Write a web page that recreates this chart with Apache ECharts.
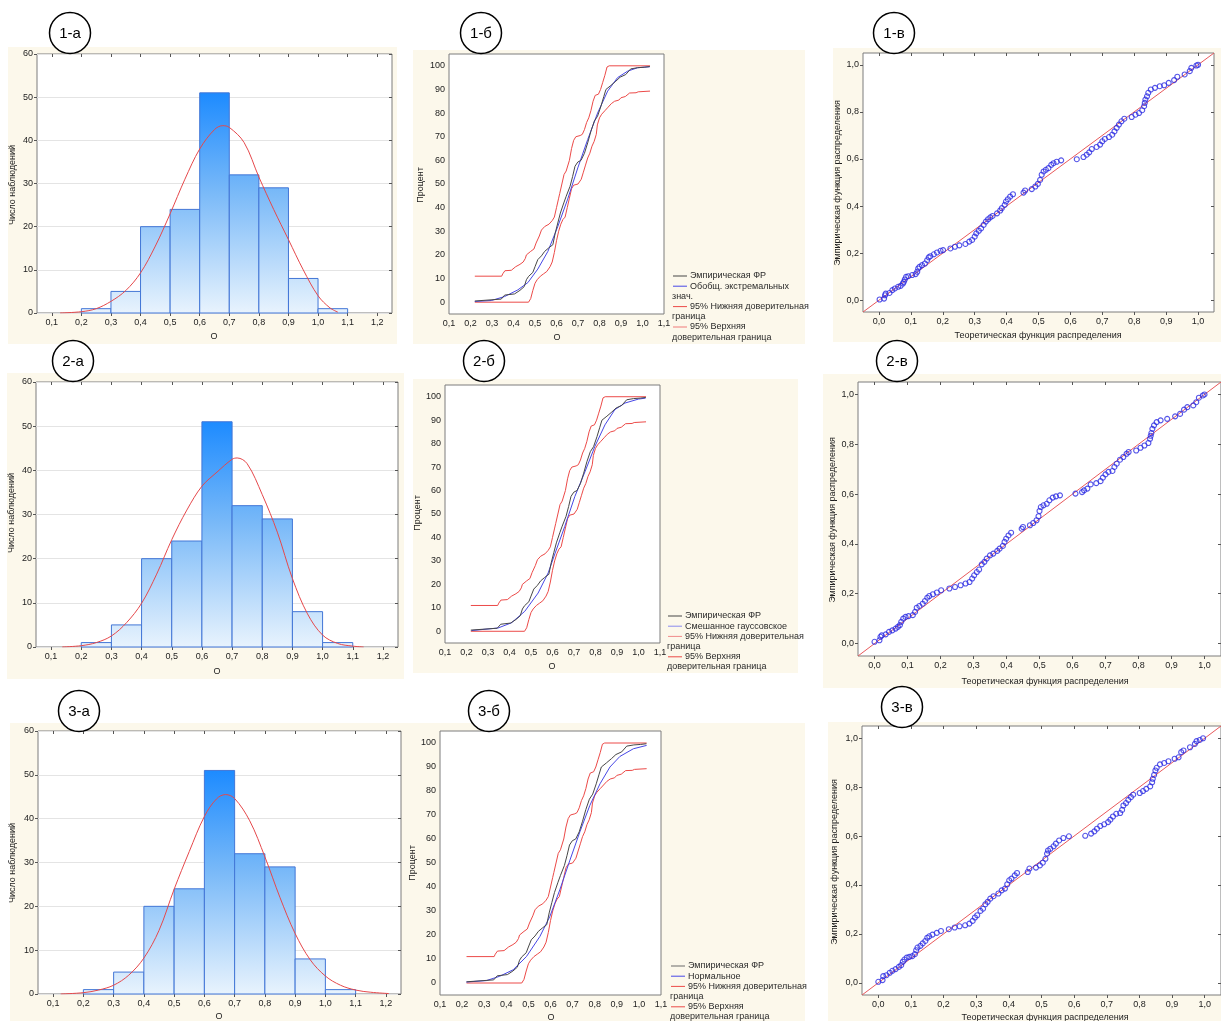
<!DOCTYPE html>
<html>
<head>
<meta charset="utf-8">
<title>Распределение О</title>
<script src="https://cdn.jsdelivr.net/npm/echarts@6/dist/echarts.min.js"></script>
<style>
  html, body { margin: 0; padding: 0; background: #ffffff; }
  #chart { width: 1221px; height: 1021px; }
</style>
</head>
<body>
<div id="chart"></div>
<script>
// ---------- data ----------
// histogram bins (edges) and counts of observations
const binEdges  = [0.2, 0.3, 0.4, 0.5, 0.6, 0.7, 0.8, 0.9, 1.0, 1.1];
const binCounts = [1, 5, 20, 24, 51, 32, 29, 8, 1];

// fitted densities over the histograms, in expected counts per bin
const densityGEV = [[0.128,0],[0.2,0.3],[0.25,1],[0.3,2.7],[0.35,5.2],[0.4,9.3],[0.45,15.5],[0.5,23],[0.55,31],[0.6,38],[0.65,42.5],[0.678,43.4],[0.7,43],[0.75,39.5],[0.8,31.5],[0.85,24],[0.9,17],[0.95,10],[1.0,4],[1.04,1.2],[1.067,0.2]];
const densityMix = [[0.137,0],[0.2,0.3],[0.25,1],[0.3,2.5],[0.35,5.5],[0.4,9.9],[0.45,16.5],[0.5,24.3],[0.55,31],[0.6,36.4],[0.65,39.6],[0.7,42.5],[0.717,42.8],[0.75,41.5],[0.8,34.5],[0.85,26],[0.9,15.5],[0.95,7.5],[1.0,2.7],[1.05,0.8],[1.1,0.2],[1.136,0]];
const densityNormal = [[0.125,0],[0.2,0.3],[0.25,0.9],[0.3,2.0],[0.35,4.3],[0.4,8.2],[0.45,14.5],[0.5,23.9],[0.55,32.5],[0.6,40.5],[0.64,44.5],[0.67,45.5],[0.7,44.6],[0.75,39.5],[0.8,31.3],[0.85,22],[0.9,13.8],[0.95,7.8],[1.0,4.1],[1.05,2],[1.1,0.9],[1.15,0.4],[1.21,0.1]];

// empirical distribution function and its 95% band, percent
const ecdfPoints = [[0.22,0.5],[0.343,1.3],[0.359,3],[0.405,3.5],[0.43,5],[0.45,6.6],[0.46,9.5],[0.47,10.9],[0.49,12.6],[0.5,15],[0.513,18],[0.53,19.6],[0.545,21.5],[0.563,22.9],[0.583,24.3],[0.594,29.2],[0.606,33.5],[0.618,37.7],[0.634,42],[0.645,44.8],[0.652,45.5],[0.663,49],[0.675,53.2],[0.686,57.5],[0.699,59.3],[0.714,60],[0.73,63],[0.745,67.4],[0.76,72.3],[0.776,76.6],[0.791,78.7],[0.807,83],[0.82,87],[0.83,90],[0.853,91.7],[0.876,93.5],[0.896,95.2],[0.922,96.3],[0.945,98.7],[0.977,99.2],[1.008,99.4],[1.034,99.7]];
const lowerBand95 = [[0.22,0],[0.47,0],[0.48,1.5],[0.49,5],[0.5,8],[0.51,9.5],[0.525,11],[0.54,12],[0.555,13],[0.57,15],[0.58,17],[0.59,21],[0.6,26],[0.61,30],[0.62,33],[0.63,35],[0.64,36],[0.65,40],[0.66,44],[0.67,48],[0.68,49.5],[0.7,50],[0.715,52],[0.725,55],[0.735,58],[0.745,61],[0.755,63],[0.765,66],[0.775,68],[0.785,71],[0.79,75],[0.8,78],[0.81,79.5],[0.825,81],[0.84,82.5],[0.855,84],[0.87,85],[0.89,85.5],[0.9,86.5],[0.92,87],[0.94,88.5],[0.97,88.6],[0.98,89],[1.035,89.3]];
const upperBand95 = [[0.22,11],[0.345,11],[0.35,12],[0.36,13.3],[0.39,13.5],[0.41,15],[0.43,16],[0.445,17],[0.455,18.5],[0.46,20],[0.48,21.5],[0.495,22.5],[0.505,25],[0.52,28],[0.53,30.5],[0.545,32],[0.565,33],[0.58,34.5],[0.59,36],[0.6,40],[0.61,44],[0.615,46],[0.625,50],[0.635,54],[0.645,55.5],[0.65,56],[0.66,60],[0.67,65],[0.68,68.5],[0.69,70],[0.71,70.5],[0.72,71],[0.73,73],[0.74,76],[0.75,78],[0.76,81],[0.77,85],[0.78,87.5],[0.795,88],[0.805,90],[0.815,93],[0.825,96],[0.835,99.5],[0.845,100],[1.035,100]];

// fitted distribution functions, percent
const cdfGEV = [[0.22,0.3],[0.297,0.7],[0.359,2.4],[0.42,5.2],[0.467,8.3],[0.513,14],[0.56,21.5],[0.606,32],[0.652,43.6],[0.699,56.8],[0.745,68.8],[0.791,80],[0.838,89.3],[0.884,95],[0.93,97.7],[0.977,99.2],[1.034,99.6]];
const cdfMixture = [[0.223,0.3],[0.347,1.4],[0.409,3.6],[0.471,8.5],[0.533,16.3],[0.58,24.9],[0.611,33],[0.657,44.7],[0.704,57.5],[0.751,68],[0.797,78.8],[0.844,88],[0.89,94.5],[0.937,97.3],[1.0,99],[1.033,99.4]];
const cdfNormal = [[0.219,0.4],[0.31,1],[0.37,2.8],[0.431,5.5],[0.491,11],[0.552,19.4],[0.597,27.7],[0.642,38.8],[0.688,51.2],[0.733,63],[0.778,74],[0.824,83],[0.869,90],[0.914,94.4],[0.975,97.6],[1.035,99]];

// probability-probability points: (theoretical, empirical)
const ppGEV = [[0.002,0.003],[0.016,0.007],[0.019,0.021],[0.021,0.028],[0.033,0.031],[0.042,0.043],[0.05,0.05],[0.06,0.057],[0.068,0.061],[0.075,0.071],[0.078,0.078],[0.081,0.088],[0.085,0.099],[0.092,0.102],[0.104,0.107],[0.115,0.111],[0.12,0.121],[0.123,0.135],[0.127,0.142],[0.135,0.149],[0.144,0.156],[0.151,0.17],[0.156,0.182],[0.161,0.187],[0.172,0.195],[0.182,0.203],[0.193,0.21],[0.201,0.213],[0.224,0.22],[0.238,0.227],[0.252,0.233],[0.271,0.239],[0.283,0.249],[0.292,0.256],[0.3,0.27],[0.305,0.284],[0.313,0.295],[0.32,0.305],[0.328,0.32],[0.335,0.334],[0.342,0.344],[0.349,0.352],[0.356,0.358],[0.37,0.369],[0.38,0.381],[0.385,0.391],[0.394,0.405],[0.398,0.419],[0.404,0.429],[0.411,0.44],[0.42,0.45],[0.453,0.457],[0.458,0.466],[0.479,0.472],[0.49,0.483],[0.498,0.494],[0.505,0.511],[0.51,0.533],[0.516,0.547],[0.523,0.554],[0.531,0.561],[0.54,0.575],[0.547,0.582],[0.557,0.588],[0.571,0.594],[0.62,0.599],[0.641,0.608],[0.651,0.618],[0.659,0.628],[0.667,0.642],[0.682,0.651],[0.693,0.661],[0.7,0.675],[0.708,0.685],[0.721,0.693],[0.731,0.703],[0.738,0.717],[0.745,0.732],[0.752,0.746],[0.76,0.76],[0.769,0.771],[0.792,0.778],[0.804,0.788],[0.815,0.795],[0.825,0.807],[0.831,0.824],[0.833,0.838],[0.835,0.852],[0.84,0.866],[0.844,0.881],[0.852,0.895],[0.865,0.902],[0.88,0.909],[0.894,0.913],[0.908,0.923],[0.925,0.935],[0.935,0.949],[0.958,0.959],[0.974,0.973],[0.979,0.987],[0.995,0.997],[1.0,1.0]];
const ppMixture = [[0,0.007],[0.015,0.013],[0.018,0.027],[0.022,0.033],[0.034,0.037],[0.044,0.047],[0.054,0.053],[0.064,0.06],[0.071,0.067],[0.077,0.074],[0.081,0.087],[0.087,0.1],[0.094,0.107],[0.103,0.11],[0.116,0.114],[0.123,0.127],[0.128,0.144],[0.136,0.151],[0.146,0.16],[0.153,0.171],[0.16,0.184],[0.166,0.191],[0.177,0.198],[0.189,0.205],[0.202,0.214],[0.227,0.221],[0.244,0.227],[0.261,0.234],[0.276,0.241],[0.288,0.247],[0.296,0.261],[0.302,0.274],[0.31,0.287],[0.317,0.297],[0.325,0.318],[0.333,0.328],[0.34,0.341],[0.35,0.354],[0.36,0.361],[0.372,0.372],[0.379,0.381],[0.389,0.392],[0.394,0.408],[0.399,0.421],[0.406,0.434],[0.414,0.445],[0.446,0.461],[0.45,0.468],[0.471,0.475],[0.481,0.484],[0.491,0.495],[0.497,0.511],[0.5,0.532],[0.504,0.548],[0.512,0.555],[0.522,0.561],[0.53,0.575],[0.54,0.586],[0.55,0.591],[0.562,0.595],[0.609,0.602],[0.629,0.608],[0.635,0.615],[0.645,0.622],[0.655,0.639],[0.672,0.644],[0.685,0.652],[0.692,0.666],[0.7,0.679],[0.709,0.689],[0.721,0.693],[0.727,0.709],[0.734,0.722],[0.744,0.738],[0.754,0.749],[0.764,0.762],[0.77,0.769],[0.793,0.775],[0.806,0.786],[0.818,0.795],[0.83,0.805],[0.835,0.822],[0.837,0.834],[0.839,0.845],[0.842,0.862],[0.847,0.876],[0.855,0.889],[0.867,0.896],[0.887,0.902],[0.911,0.912],[0.926,0.922],[0.938,0.939],[0.948,0.949],[0.966,0.956],[0.975,0.969],[0.983,0.987],[0.995,0.996],[1.0,1.0]];
const ppNormal = [[0,0.004],[0.013,0.011],[0.015,0.027],[0.025,0.031],[0.035,0.041],[0.043,0.049],[0.053,0.056],[0.063,0.065],[0.07,0.072],[0.075,0.086],[0.08,0.095],[0.087,0.103],[0.095,0.106],[0.104,0.109],[0.112,0.117],[0.116,0.133],[0.12,0.144],[0.129,0.151],[0.136,0.161],[0.144,0.171],[0.15,0.184],[0.156,0.19],[0.166,0.197],[0.179,0.204],[0.192,0.212],[0.216,0.219],[0.234,0.226],[0.249,0.231],[0.266,0.235],[0.279,0.242],[0.289,0.253],[0.296,0.267],[0.303,0.276],[0.313,0.294],[0.321,0.303],[0.328,0.321],[0.335,0.331],[0.343,0.344],[0.353,0.354],[0.368,0.365],[0.378,0.378],[0.388,0.385],[0.395,0.403],[0.401,0.419],[0.408,0.426],[0.418,0.439],[0.425,0.449],[0.458,0.453],[0.463,0.467],[0.483,0.471],[0.495,0.48],[0.504,0.491],[0.512,0.507],[0.517,0.528],[0.52,0.541],[0.527,0.548],[0.537,0.558],[0.544,0.569],[0.554,0.582],[0.567,0.592],[0.584,0.599],[0.634,0.601],[0.652,0.61],[0.662,0.619],[0.67,0.63],[0.68,0.641],[0.692,0.648],[0.704,0.657],[0.711,0.667],[0.719,0.68],[0.729,0.691],[0.741,0.694],[0.747,0.707],[0.751,0.725],[0.759,0.735],[0.766,0.748],[0.774,0.759],[0.781,0.769],[0.801,0.776],[0.811,0.784],[0.821,0.793],[0.833,0.803],[0.839,0.82],[0.841,0.834],[0.845,0.85],[0.849,0.868],[0.853,0.879],[0.863,0.893],[0.876,0.899],[0.889,0.906],[0.908,0.916],[0.92,0.922],[0.928,0.943],[0.935,0.95],[0.955,0.963],[0.97,0.977],[0.975,0.988],[0.985,0.993],[0.995,1.0]];
const ppDiagonal = [[-0.05,-0.05],[1.05,1.05]];

// tick labels
const histXTicks = [0.1,0.2,0.3,0.4,0.5,0.6,0.7,0.8,0.9,1.0,1.1,1.2];
const cdfXTicks  = [0.1,0.2,0.3,0.4,0.5,0.6,0.7,0.8,0.9,1.0,1.1];
const cdfYTicks  = [0,10,20,30,40,50,60,70,80,90,100];
const ppXTicks   = [0,0.1,0.2,0.3,0.4,0.5,0.6,0.7,0.8,0.9,1.0];
const ppYTicks   = [0,0.2,0.4,0.6,0.8,1.0];

// captions
const panelTags = [['1-а','1-б','1-в'],['2-а','2-б','2-в'],['3-а','3-б','3-в']];

// ---------- drawing ----------
const FONT = '"Liberation Sans", Arial, Helvetica, sans-serif';
const CREAM = '#fcf8eb';
const comma = v => (Math.round(v * 10) / 10).toFixed(1).replace('.', ',');

const grids = [], xAxes = [], yAxes = [], series = [], elements = [];

function labelStyle(extra) {
  return Object.assign({ fontFamily: FONT, fontSize: 9, color: '#1c1c1c' }, extra);
}

// axis line hidden and kept at the frame edge (never snapped to zero)
const noLine = { show: false, onZero: false };

function addPanel(box, xs, ys, mirror) {
  const g = grids.length;
  grids.push({ left: box[0], top: box[1], width: box[2], height: box[3], show: true,
    backgroundColor: '#ffffff', borderColor: '#7c7c7c', borderWidth: 1 });
  const xi = xAxes.length, yi = yAxes.length;
  xAxes.push({ type: 'value', gridIndex: g, position: 'bottom', min: xs.min, max: xs.max,
    axisLine: noLine,
    axisTick: { show: xs.ticks, length: 3, lineStyle: { color: '#555' }, customValues: xs.values },
    axisLabel: labelStyle({ customValues: xs.values, formatter: xs.fmt, margin: 5 }),
    splitLine: { show: false } });
  yAxes.push({ type: 'value', gridIndex: g, position: 'left', min: ys.min, max: ys.max,
    axisLine: noLine,
    axisTick: { show: ys.ticks, length: 3, lineStyle: { color: '#555' }, customValues: ys.values },
    axisLabel: labelStyle({ customValues: ys.values, formatter: ys.fmt, margin: 4 }),
    splitLine: { show: !!ys.grid, lineStyle: { color: '#e4e4e4', width: 1 } },
    interval: ys.interval });
  if (mirror) {
    xAxes.push({ type: 'value', gridIndex: g, position: 'top', min: xs.min, max: xs.max,
      axisLine: noLine, splitLine: { show: false },
      axisTick: { show: true, inside: true, length: 3, lineStyle: { color: '#555' }, customValues: xs.values },
      axisLabel: { show: false, customValues: xs.values } });
    yAxes.push({ type: 'value', gridIndex: g, position: 'right', min: ys.min, max: ys.max,
      axisLine: noLine, splitLine: { show: false },
      axisTick: { show: true, inside: true, length: 3, lineStyle: { color: '#555' }, customValues: ys.values },
      axisLabel: { show: false, customValues: ys.values } });
  }
  return { xi, yi };
}

function tagCircle(cx, cy, text) {
  elements.push({ type: 'circle', z: 100, shape: { cx, cy, r: 20.5 },
    style: { fill: '#ffffff', stroke: '#000000', lineWidth: 1.5 } });
  elements.push({ type: 'text', z: 101, x: cx, y: cy + 1,
    style: { text, font: '15px ' + FONT, fill: '#000', textAlign: 'center', textVerticalAlign: 'middle' } });
}

function cream(x, y, w, h) {
  elements.push({ type: 'rect', z: -10, silent: true, shape: { x, y, width: w, height: h }, style: { fill: CREAM } });
}

function axisName(x, y, text, vertical) {
  elements.push({ type: 'text', z: 50, x, y, rotation: vertical ? Math.PI / 2 : 0,
    style: { text, font: '9px ' + FONT, fill: '#1c1c1c', textAlign: 'center', textVerticalAlign: 'middle' } });
}

// legend with wrapped captions: [color or null, text] per row
function legend(x, y0, rows) {
  rows.forEach((r, k) => {
    const y = y0 + k * 10.2;
    if (r[0]) {
      elements.push({ type: 'line', z: 50, shape: { x1: x + 1, y1: y, x2: x + 15, y2: y },
        style: { stroke: r[0], lineWidth: 1 } });
    }
    elements.push({ type: 'text', z: 50, x: r[0] ? x + 18 : x, y,
      style: { text: r[1], font: '9px ' + FONT, fill: '#2a2a2a', textAlign: 'left', textVerticalAlign: 'middle' } });
  });
}

// ----- column а: histograms with fitted density -----
const histBoxes = [[37,54,355,259],[36,382,362,265],[38,731,363,263]];
const densities = [densityGEV, densityMix, densityNormal];
const peak = Math.max.apply(null, binCounts);
const binData = binCounts.map((c, k) => [binEdges[k], binEdges[k + 1], c]);

histBoxes.forEach((box, r) => {
  const ax = addPanel(box,
    { min: 0.05, max: 1.25, values: histXTicks, fmt: comma, ticks: true },
    { min: 0, max: 60, interval: 10, fmt: v => String(v), ticks: true, grid: true }, true);
  series.push({
    type: 'custom', xAxisIndex: ax.xi, yAxisIndex: ax.yi, data: binData, z: 3,
    renderItem: (params, api) => {
      const tl = api.coord([api.value(0), api.value(2)]);
      const br = api.coord([api.value(1), 0]);
      const yTop = api.coord([0, peak])[1];
      return {
        type: 'rect',
        shape: { x: tl[0], y: tl[1], width: br[0] - tl[0], height: br[1] - tl[1] },
        style: {
          fill: new echarts.graphic.LinearGradient(0, yTop, 0, br[1], [
            { offset: 0, color: '#1d8bff' },
            { offset: 0.45, color: '#79b9f8' },
            { offset: 1, color: '#e8f3fd' }
          ], true),
          stroke: '#4276d6', lineWidth: 1
        }
      };
    }
  });
  series.push({
    type: 'line', xAxisIndex: ax.xi, yAxisIndex: ax.yi, data: densities[r], z: 5,
    smooth: 0.35, showSymbol: false, silent: true,
    lineStyle: { color: '#e5484b', width: 1 }
  });
});

// ----- column б: distribution functions with 95% band -----
const cdfBoxes = [[449,54,215,260],[445,385,215,258],[440,731,221,264]];
const fits = [cdfGEV, cdfMixture, cdfNormal];
cdfBoxes.forEach((box, r) => {
  const ax = addPanel(box,
    { min: 0.1, max: 1.1, values: cdfXTicks, fmt: comma, ticks: false },
    { min: -5, max: 105, values: cdfYTicks, fmt: v => String(v), ticks: false }, false);
  const common = { type: 'line', xAxisIndex: ax.xi, yAxisIndex: ax.yi, showSymbol: false, silent: true };
  series.push(Object.assign({ data: lowerBand95, lineStyle: { color: '#ec4a48', width: 1 }, z: 3 }, common));
  series.push(Object.assign({ data: upperBand95, lineStyle: { color: '#ec4a48', width: 1 }, z: 3 }, common));
  series.push(Object.assign({ data: fits[r], lineStyle: { color: '#4747e6', width: 1 }, z: 4 }, common));
  series.push(Object.assign({ data: ecdfPoints, lineStyle: { color: '#474747', width: 1 }, z: 5 }, common));
});

// ----- column в: probability-probability plots -----
const ppBoxes = [[863,53,351,259],[858,382,372,274],[862,726,368,269]];
const ppSets = [ppGEV, ppMixture, ppNormal];
ppBoxes.forEach((box, r) => {
  const ax = addPanel(box,
    { min: -0.05, max: 1.05, values: ppXTicks, fmt: comma, ticks: true },
    { min: -0.05, max: 1.05, values: ppYTicks, fmt: comma, ticks: true }, true);
  series.push({ type: 'line', xAxisIndex: ax.xi, yAxisIndex: ax.yi, data: ppDiagonal, z: 3,
    showSymbol: false, silent: true, lineStyle: { color: '#e8595b', width: 1 } });
  series.push({ type: 'scatter', xAxisIndex: ax.xi, yAxisIndex: ax.yi, data: ppSets[r], z: 4,
    symbol: 'circle', symbolSize: 5, silent: true,
    itemStyle: { color: 'rgba(0,0,0,0)', borderColor: '#2a2ae2', borderWidth: 1.1 } });
});

// ----- panel backgrounds, tags, axis names, legends -----
cream(8, 47, 389, 297);    cream(413, 50, 392, 294);   cream(833, 48, 388, 294);
cream(7, 373, 397, 306);   cream(413, 379, 385, 294);  cream(823, 374, 398, 314);
cream(10, 723, 394, 298);  cream(404, 723, 401, 298);  cream(828, 722, 393, 299);

const tagPos = [[[70,33],[481,33],[894,33]], [[73,361],[484,361],[897,361]], [[79,711],[489,711],[902,707]]];
tagPos.forEach((row, r) => row.forEach((p, c) => tagCircle(p[0], p[1], panelTags[r][c])));

// histogram axis names
axisName(13, 185, 'Число наблюдений', true);  axisName(214, 337, 'О');
axisName(12, 513, 'Число наблюдений', true);  axisName(217, 672, 'О');
axisName(13, 863, 'Число наблюдений', true);  axisName(219, 1017, 'О');
// distribution function axis names
axisName(421, 185, 'Процент', true);  axisName(557, 338, 'О');
axisName(418, 513, 'Процент', true);  axisName(552, 667, 'О');
axisName(413, 863, 'Процент', true);  axisName(551, 1018, 'О');
// probability plot axis names
axisName(838, 183, 'Эмпирическая функция распределения', true);  axisName(1038, 336, 'Теоретическая функция распределения');
axisName(833, 520, 'Эмпирическая функция распределения', true);  axisName(1045, 682, 'Теоретическая функция распределения');
axisName(835, 862, 'Эмпирическая функция распределения', true);  axisName(1045, 1018, 'Теоретическая функция распределения');

// legends of the distribution function panels
legend(672, 276, [['#474747','Эмпирическая ФР'], ['#4747e6','Обобщ. экстремальных'], [null,'знач.'],
  ['#ec4a48','95% Нижняя доверительная'], [null,'граница'], ['#f07a7a','95% Верхняя'], [null,'доверительная граница']]);
legend(667, 616, [['#474747','Эмпирическая ФР'], ['#8a8aee','Смешанное гауссовское'],
  ['#f08a8a','95% Нижняя доверительная'], [null,'граница'], ['#ec4a48','95% Верхняя'], [null,'доверительная граница']]);
legend(670, 966, [['#6a6a6a','Эмпирическая ФР'], ['#4747e6','Нормальное'],
  ['#ec4a48','95% Нижняя доверительная'], [null,'граница'], ['#ec4a48','95% Верхняя'], [null,'доверительная граница']]);

const chart = echarts.init(document.getElementById('chart'), null, { renderer: 'canvas' });
chart.setOption({
  animation: false,
  backgroundColor: '#ffffff',
  textStyle: { fontFamily: FONT },
  grid: grids,
  xAxis: xAxes,
  yAxis: yAxes,
  series: series,
  graphic: { elements: elements }
});
</script>
</body>
</html>
